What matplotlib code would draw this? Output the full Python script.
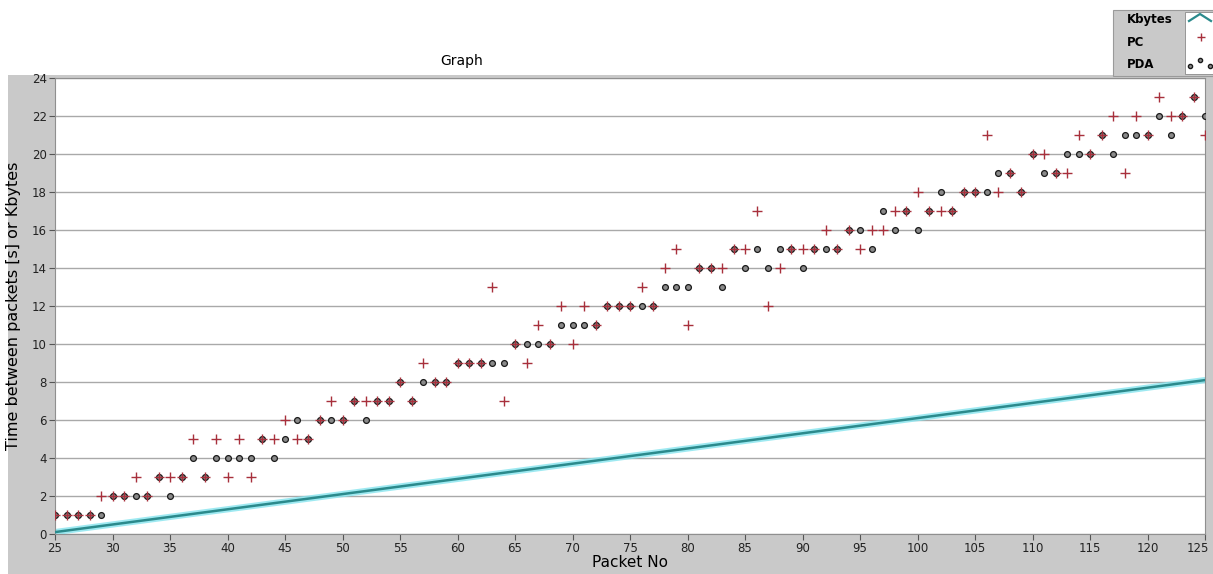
import matplotlib
matplotlib.use("Agg")
import matplotlib.pyplot as plt
from matplotlib.patches import Rectangle
from matplotlib.lines import Line2D
from matplotlib.transforms import ScaledTranslation

# packet numbers 25..125
packets = list(range(25, 126))

pc = [1, 1, 1, 1, 2, 2, 2, 3, 2, 3,        # 25-34
      3, 3, 5, 3, 5, 3, 5, 3, 5, 5,        # 35-44
      6, 5, 5, 6, 7, 6, 7, 7, 7, 7,        # 45-54
      8, 7, 9, 8, 8, 9, 9, 9, 13, 7,       # 55-64
      10, 9, 11, 10, 12, 10, 12, 11, 12, 12,   # 65-74
      12, 13, 12, 14, 15, 11, 14, 14, 14, 15,  # 75-84
      15, 17, 12, 14, 15, 15, 15, 16, 15, 16,  # 85-94
      15, 16, 16, 17, 17, 18, 17, 17, 17, 18,  # 95-104
      18, 21, 18, 19, 18, 20, 20, 19, 19, 21,  # 105-114
      20, 21, 22, 19, 22, 21, 23, 22, 22, 23,  # 115-124
      21]                                      # 125

pda = [1, 1, 1, 1, 1, 2, 2, 2, 2, 3,       # 25-34
       2, 3, 4, 3, 4, 4, 4, 4, 5, 4,       # 35-44
       5, 6, 5, 6, 6, 6, 7, 6, 7, 7,       # 45-54
       8, 7, 8, 8, 8, 9, 9, 9, 9, 9,       # 55-64
       10, 10, 10, 10, 11, 11, 11, 11, 12, 12,  # 65-74
       12, 12, 12, 13, 13, 13, 14, 14, 13, 15,  # 75-84
       14, 15, 14, 15, 15, 14, 15, 15, 15, 16,  # 85-94
       16, 15, 17, 16, 17, 16, 17, 18, 17, 18,  # 95-104
       18, 18, 19, 19, 18, 20, 19, 19, 20, 20,  # 105-114
       20, 21, 20, 21, 21, 21, 22, 21, 22, 23,  # 115-124
       22]                                      # 125

kb_packets = [25, 30, 35, 40, 45, 50, 55, 60, 65, 70, 75,
              80, 85, 90, 95, 100, 105, 110, 115, 120, 125]
kbytes = [0.1, 0.5, 0.9, 1.3, 1.7, 2.1, 2.5, 2.9, 3.3, 3.7, 4.1,
          4.5, 4.9, 5.3, 5.7, 6.1, 6.5, 6.9, 7.3, 7.7, 8.1]

labels = ["Kbytes", "PC", "PDA"]

W, H = 1213, 574
PANEL = "#c9c9c9"
TEAL = "#2b8a8c"
GLOW = "#86e4ee"
RED = "#a8303c"


def fx(px):
    return px / W


def fy(py):
    return 1 - py / H


fig = plt.figure(figsize=(W / 100, H / 100), dpi=100)
fig.patch.set_facecolor("white")
# grey panel behind the plot
fig.add_artist(Rectangle((fx(8), 0), 1 - fx(8), fy(75),
                         transform=fig.transFigure, facecolor=PANEL,
                         edgecolor="none", zorder=0))

ax = fig.add_axes([fx(55), fy(534), (1205 - 55) / W, (534 - 78) / H])
ax.set_facecolor("white")

ax.plot(kb_packets, kbytes, color=GLOW, lw=4.5, alpha=0.8, zorder=2)
ax.plot(kb_packets, kbytes, color=TEAL, lw=1.8, zorder=3)
ax.plot(packets, pda, ls="none", marker="o", ms=4.2, mfc="#8a8a8a",
        mec="#1a1a1a", mew=0.9, zorder=4)
ax.plot(packets, pc, ls="none", marker="+", ms=6.5, mew=1.0, color=RED,
        zorder=5)

ax.set_xlim(25, 125)
ax.set_ylim(0, 24)
ax.set_xticks(range(25, 126, 5))
ax.set_yticks(range(0, 25, 2))
ax.yaxis.grid(True, color="#a9a9a9", lw=1)
ax.set_axisbelow(True)
for s in ax.spines.values():
    s.set_color("#8f8f8f")
ax.tick_params(axis="both", direction="out", length=4, color="#555555",
               labelsize=8.5, labelcolor="#222222", pad=2)
# last x label sits against the right edge, nudge it in a little
last = ax.get_xticklabels()[-1]
last.set_transform(last.get_transform() + ScaledTranslation(-5 / 72, 0, fig.dpi_scale_trans))

ax.set_xlabel("Packet No", fontsize=11, labelpad=0)
ax.set_ylabel("Time between packets [s] or Kbytes", fontsize=11.5, labelpad=8)

fig.text(fx(462), fy(61), "Graph", ha="center", va="center", fontsize=10)

# legend box, top right: labels on the left, samples on the right
fig.add_artist(Rectangle((fx(1113), fy(76)), 100 / W, 66 / H,
                         transform=fig.transFigure, facecolor=PANEL,
                         edgecolor="#9a9a9a", lw=0.8, zorder=5))
fig.add_artist(Rectangle((fx(1185), fy(74)), 28 / W, 62 / H,
                         transform=fig.transFigure, facecolor="white",
                         edgecolor="#8a8a8a", lw=0.6, zorder=6))
for lab, py in zip(labels, [20, 43, 65]):
    fig.text(fx(1127), fy(py), lab, ha="left", va="center", fontsize=8.5,
             fontweight="bold", zorder=7)
fig.add_artist(Line2D([fx(1189), fx(1200), fx(1211)], [fy(21), fy(14), fy(21)],
                      transform=fig.transFigure, color=TEAL, lw=1.6, zorder=7))
fig.add_artist(Line2D([fx(1201)], [fy(37)], transform=fig.transFigure,
                      ls="none", marker="+", ms=6, mew=1.0, color=RED, zorder=7))
fig.add_artist(Line2D([fx(1190), fx(1200), fx(1210)], [fy(66), fy(60), fy(66)],
                      transform=fig.transFigure, ls="none", marker="o", ms=3,
                      mfc="#8a8a8a", mec="#1a1a1a", zorder=7))

fig.savefig("out.png", dpi=100)
